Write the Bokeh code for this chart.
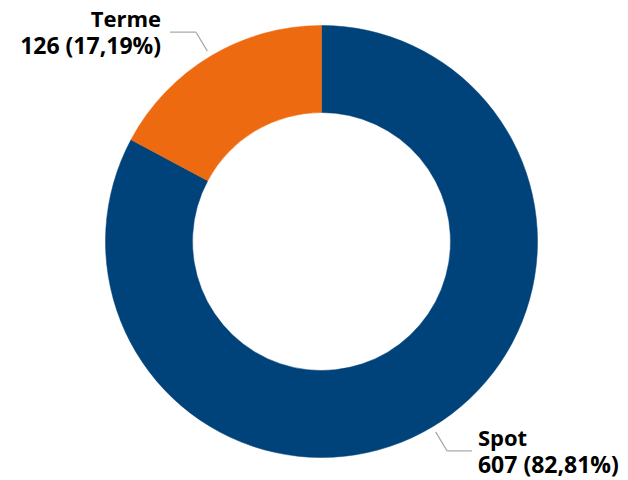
import math
from bokeh.plotting import figure
from bokeh.models import Range1d, ColumnDataSource
from bokeh.core.properties import value
from bokeh.embed import file_html
from bokeh.resources import INLINE

categories = ["Spot", "Terme"]
values = [607, 126]
colors = ["#00427A", "#EE6A10"]

W, H = 628, 480
p = figure(width=W, height=H, output_backend="svg", toolbar_location=None,
           x_range=Range1d(0, W), y_range=Range1d(0, H), min_border=0)
p.axis.visible = False
p.grid.visible = False
p.outline_line_color = None
p.background_fill_color = "white"

cx, cy = 321, 239
r_out, r_in = 216, 129
total = sum(values)

# Spot starts at top going clockwise; Terme fills the rest
starts, ends, mids = [], [], []
a = math.pi / 2
for v in values:
    sweep = 2 * math.pi * v / total
    starts.append(a - sweep)
    ends.append(a)
    mids.append(a - sweep / 2)
    a -= sweep

src = ColumnDataSource(dict(x=[cx] * len(values), y=[cy] * len(values),
                            start=starts, end=ends, color=colors))
p.annular_wedge(x="x", y="y", inner_radius=r_in, outer_radius=r_out,
                start_angle="start", end_angle="end", fill_color="color",
                line_color="color", line_width=0.5, source=src)

font = value("Open Sans")
for cat, v, m in zip(categories, values, mids):
    pct = f"{100 * v / total:.2f}".replace(".", ",")
    x0 = cx + 222 * math.cos(m)
    y0 = cy + 222 * math.sin(m)
    x1 = cx + 244 * math.cos(m)
    y1 = cy + 244 * math.sin(m)
    right = math.cos(m) > 0
    x2 = x1 + (25 if right else -26)
    p.line([x0, x1, x2], [y0, y1, y1], line_color="#AAAAAA", line_width=1.3)
    tx = x2 + (6 if right else -9)
    align = "left" if right else "right"
    p.text([tx], [y1 + 14], text=[cat], text_font=font, text_font_style="bold",
           text_font_size="22px", text_align=align, text_baseline="middle",
           text_color="#000000")
    p.text([tx], [y1 - 13], text=[f"{v} ({pct}%)"], text_font=font,
           text_font_style="bold", text_font_size="23px", text_align=align,
           text_baseline="middle", text_color="#000000")

open("out.html", "w").write(file_html(p, INLINE))
